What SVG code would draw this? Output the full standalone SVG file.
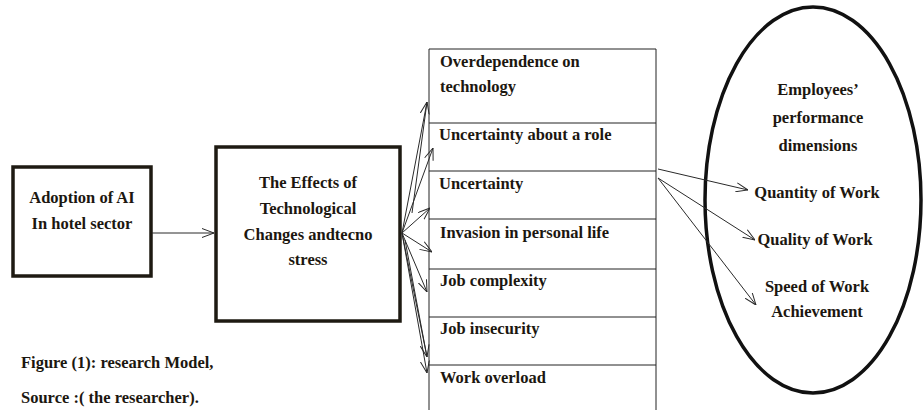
<svg xmlns="http://www.w3.org/2000/svg" width="923" height="410" viewBox="0 0 923 410">
  <defs>
    <style>
      text { font-family: "Liberation Serif", "Times New Roman", serif; font-weight: bold; font-size: 16.5px; fill: #1c1710; }
      .mid { text-anchor: middle; }
      .box { fill: #fff; stroke: #1e1a12; stroke-width: 3.5; }
      .cell { fill: #fff; stroke: #222; stroke-width: 1; }
      .link { fill: none; stroke: #2a2a2a; stroke-width: 1; }
    </style>
    <marker id="arrow" viewBox="0 0 12 10" refX="12" refY="5" markerWidth="12" markerHeight="10" markerUnits="userSpaceOnUse" orient="auto">
      <path d="M0,0.5 L12,5 L0,9.5" fill="none" stroke="#2a2a2a" stroke-width="1"/>
    </marker>
  </defs>

  <rect width="923" height="410" fill="#fff"/>

  <!-- source node -->
  <g id="adoption">
    <rect class="box" x="13" y="167" width="138" height="109"/>
    <text class="mid" x="82" y="203">Adoption of AI</text>
    <text class="mid" x="82" y="229">In hotel sector</text>
  </g>

  <!-- central node -->
  <g id="effects">
    <rect class="box" x="216" y="147" width="184" height="174"/>
    <text class="mid" x="308" y="188">The Effects of</text>
    <text class="mid" x="308" y="214">Technological</text>
    <text class="mid" x="308" y="240">Changes andtecno</text>
    <text class="mid" x="308" y="265">stress</text>
  </g>

  <!-- list of stress factors -->
  <g id="factors">
    <path class="cell" d="M429,410 V49 H656 V410"/>
    <line class="cell" x1="429" y1="123" x2="656" y2="123"/>
    <line class="cell" x1="429" y1="171" x2="656" y2="171"/>
    <line class="cell" x1="429" y1="219" x2="656" y2="219"/>
    <line class="cell" x1="429" y1="269" x2="656" y2="269"/>
    <line class="cell" x1="429" y1="317" x2="656" y2="317"/>
    <line class="cell" x1="429" y1="365" x2="656" y2="365"/>
    <text x="440" y="67">Overdependence on</text>
    <text x="440" y="92">technology</text>
    <text x="439" y="140">Uncertainty about a role</text>
    <text x="439" y="189">Uncertainty</text>
    <text x="440" y="238">Invasion in personal life</text>
    <text x="440" y="286">Job complexity</text>
    <text x="440" y="334">Job insecurity</text>
    <text x="440" y="383">Work overload</text>
  </g>

  <!-- performance dimensions -->
  <g id="performance">
    <ellipse cx="813" cy="200" rx="108" ry="193" fill="none" stroke="#111" stroke-width="3.5"/>
    <text class="mid" x="818" y="95">Employees’</text>
    <text class="mid" x="818" y="123">performance</text>
    <text class="mid" x="818" y="151">dimensions</text>
    <text class="mid" x="817" y="198">Quantity of Work</text>
    <text class="mid" x="815" y="245">Quality of Work</text>
    <text class="mid" x="817" y="292">Speed of Work</text>
    <text class="mid" x="817" y="317">Achievement</text>
  </g>

  <!-- connectors -->
  <g id="connectors">
    <line class="link" x1="152" y1="233" x2="214" y2="233" marker-end="url(#arrow)"/>
    <line class="link" x1="402" y1="233" x2="427" y2="102" marker-end="url(#arrow)"/>
    <line class="link" x1="412" y1="213" x2="427" y2="102"/>
    <line class="link" x1="402" y1="233" x2="433" y2="148" marker-end="url(#arrow)"/>
    <line class="link" x1="402" y1="233" x2="430" y2="208" marker-end="url(#arrow)"/>
    <line class="link" x1="402" y1="233" x2="432" y2="252" marker-end="url(#arrow)"/>
    <line class="link" x1="402" y1="233" x2="427" y2="292" marker-end="url(#arrow)"/>
    <line class="link" x1="402" y1="233" x2="427" y2="357" marker-end="url(#arrow)"/>
    <line class="link" x1="405" y1="240" x2="427" y2="357"/>
    <line class="link" x1="402" y1="233" x2="427" y2="373" marker-end="url(#arrow)"/>
    <line class="link" x1="658" y1="169" x2="748" y2="190" marker-end="url(#arrow)"/>
    <line class="link" x1="658" y1="178" x2="755" y2="240" marker-end="url(#arrow)"/>
    <line class="link" x1="658" y1="178" x2="756" y2="305" marker-end="url(#arrow)"/>
  </g>

  <!-- caption -->
  <g id="caption">
    <text x="21" y="368">Figure (1): research Model,</text>
    <text x="21" y="403">Source :( the researcher).</text>
  </g>
</svg>
